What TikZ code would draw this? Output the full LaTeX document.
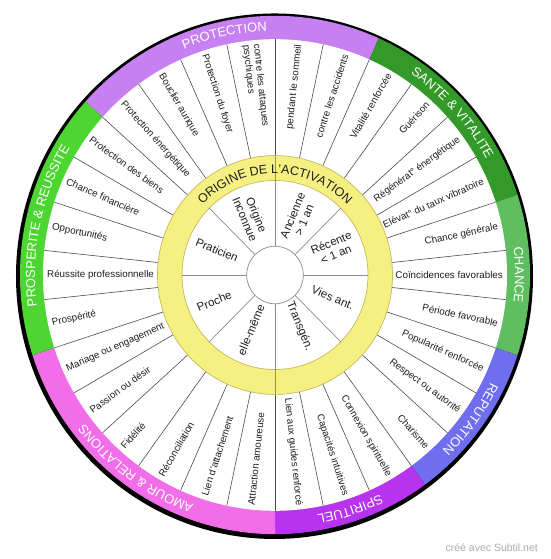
\documentclass[tikz,border=0pt]{standalone}
\usepackage{fontspec}
\setmainfont{Liberation Sans}
\usetikzlibrary{decorations.text}
\definecolor{cProt}{RGB}{199,128,242}
\definecolor{cSante}{RGB}{51,153,40}
\definecolor{cChance}{RGB}{95,190,95}
\definecolor{cRep}{RGB}{110,110,238}
\definecolor{cSpir}{RGB}{183,51,240}
\definecolor{cAmour}{RGB}{242,110,232}
\definecolor{cProsp}{RGB}{77,214,50}
\definecolor{cYel}{RGB}{246,240,130}
\definecolor{cYelEdge}{RGB}{196,186,92}
\definecolor{cTxt}{RGB}{30,30,30}
\definecolor{cFoot}{RGB}{170,170,170}
\newcommand{\bandfont}{\fontsize{13}{13}\selectfont}
\newcommand{\origfont}{\fontsize{12.5}{12.5}\selectfont}
\tikzset{
  wline/.style={draw=black!70, line width=0.6pt},
  iline/.style={draw=black!45, line width=0.7pt},
  yedge/.style={draw=cYelEdge, line width=0.7pt},
  wlab/.style={font=\fontsize{9.8}{10.6}\selectfont, text=cTxt, inner sep=0pt},
  ilab/.style={font=\fontsize{11.5}{12.5}\selectfont, text=cTxt, inner sep=0pt, align=center},
  bandlab/.style={decorate, decoration={text along path, text align=center, text color=white, text={|\bandfont|#1}}},
  foot/.style={font=\fontsize{10.5}{10.5}\selectfont, text=cFoot, inner sep=0pt}
}
\begin{document}
\begin{tikzpicture}[x=1pt,y=1pt,yscale=1.0164]
\useasboundingbox (-275,-279.42) rectangle (275,270.56);
% shadow border
\fill[black] (-0.5,-1.2) circle[radius=258.5];
% category band
\fill[cProt]   (0,0) -- (66:255)   arc[start angle=66,  end angle=138, radius=255] -- cycle;
\fill[cSante]  (0,0) -- (18:255)   arc[start angle=18,  end angle=66,  radius=255] -- cycle;
\fill[cChance] (0,0) -- (-18:255)  arc[start angle=-18, end angle=18,  radius=255] -- cycle;
\fill[cRep]    (0,0) -- (-54:255)  arc[start angle=-54, end angle=-18, radius=255] -- cycle;
\fill[cSpir]   (0,0) -- (-90:255)  arc[start angle=-90, end angle=-54, radius=255] -- cycle;
\fill[cAmour]  (0,0) -- (-162:255) arc[start angle=-162,end angle=-90, radius=255] -- cycle;
\fill[cProsp]  (0,0) -- (138:255)  arc[start angle=138, end angle=198, radius=255] -- cycle;
\fill[white] (0,0) circle[radius=232];
% wedge separators
\foreach \k in {0,...,29} \draw[wline] ({90-12*\k}:117.5) -- ({90-12*\k}:232);
% yellow ring
\fill[cYel, even odd rule] (0,0) circle[radius=117.5] (0,0) circle[radius=93];
\draw[yedge] (0,0) circle[radius=117.5];
\draw[yedge] (0,0) circle[radius=93];
\draw[iline] (90:28.3) -- (90:117.5);
\draw[iline] (-90:28.3) -- (-90:117.5);
\foreach \k in {0,...,7} \draw[iline] ({45*\k}:28.3) -- ({45*\k}:93);
\draw[iline, fill=white] (0,0) circle[radius=28.3];
% band labels
\path[bandlab={PROTECTION}] (138:240) arc[start angle=138, end angle=66, radius=240];
\path[bandlab={SANTE {\&} VITALITE}] (66:240) arc[start angle=66, end angle=18, radius=240];
\path[bandlab={CHANCE}] (18:240) arc[start angle=18, end angle=-18, radius=240];
\path[bandlab={REPUTATION}] (-18:240) arc[start angle=-18, end angle=-54, radius=240];
\path[bandlab={SPIRITUEL}] (-54:240) arc[start angle=-54, end angle=-90, radius=240];
\path[bandlab={AMOUR {\&} RELATIONS}] (-90:240) arc[start angle=-90, end angle=-162, radius=240];
\path[bandlab={PROSPERITE {\&} REUSSITE}] (198:240) arc[start angle=198, end angle=138, radius=240];
% yellow ring title
\path[decorate, decoration={text along path, text align=center, text color=cTxt, text={|\origfont|ORIGINE DE L'ACTIVATION}}] (150:100) arc[start angle=150, end angle=30, radius=100];
% outer wedge labels, right half
\foreach \i/\t in {1/pendant le sommeil, 2/contre les accidents, 3/Vitalité renforcée, 4/Guérison, 5/Régénérat° énergétique, 6/Elévat° du taux vibratoire, 7/Chance générale, 8/Coïncidences favorables, 9/Période favorable, 10/Popularité renforcée, 11/Respect ou autorité, 12/Charisme, 13/Connexion spirituelle, 14/Capacités intuitives, 15/Lien aux guides renforcé}{
  \pgfmathsetmacro\a{96-12*\i}
  \node[wlab, anchor=east, rotate=\a] (w\i) at (\a:228) {\t};
}
% outer wedge labels, left half
\foreach \i/\t in {16/Attraction amoureuse, 17/Lien d'attachement, 18/Réconciliation, 19/Fidélité, 20/Passion ou désir, 21/Mariage ou engagement, 22/Prospérité, 23/Réussite professionnelle, 24/Opportunités, 25/Chance financière, 26/Protection des biens, 27/Protection énergétique, 28/Bouclier aurique, 29/Protection du foyer, 30/contre les attaques\\psychiques}{
  \pgfmathsetmacro\a{96-12*\i}
  \pgfmathsetmacro\r{\a+180}
  \node[wlab, anchor=west, align=left, rotate=\r] (w\i) at (\a:228) {\t};
}
% inner labels
\node[ilab, rotate=67.5]  (i1) at (67.5:61)   {Ancienne\\> 1 an};
\node[ilab, rotate=22.5]  (i2) at (24:64)     {Récente\\< 1 an};
\node[ilab, rotate=-22.5] (i3) at (-21:62)    {Vies ant.};
\node[ilab, rotate=-67.5] (i4) at (-64:56)    {Transgén.};
\node[ilab, rotate=67.5]  (i5) at (-114:59)   {elle-même};
\node[ilab, rotate=22.5]  (i6) at (-157:66)   {Proche};
\node[ilab, rotate=-22.5] (i7) at (157:63)    {Praticien};
\node[ilab, rotate=-67.5] (i8) at (113:62)    {Origine\\Inconnue};
% footer
\node[foot, anchor=east] (ft) at (263,-268.4) {créé avec Subtil.net};
\end{tikzpicture}
\end{document}
